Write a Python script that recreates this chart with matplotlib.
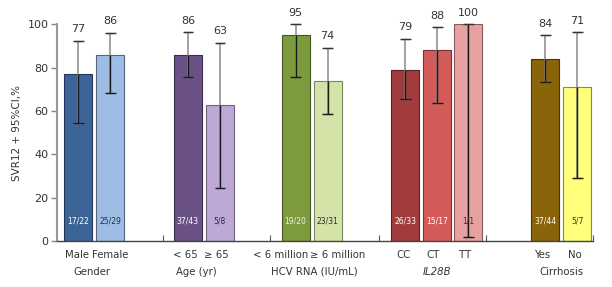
import matplotlib
matplotlib.use("Agg")
import matplotlib.pyplot as plt
import numpy as np

# ---- data ----
categories = ["Male", "Female", "< 65", "\u2265 65", "< 6 million", "\u2265 6 million",
              "CC", "CT", "TT", "Yes", "No"]
groups = ["Gender", "Age (yr)", "HCV RNA (IU/mL)", "IL28B", "Cirrhosis"]
svr = [77, 86, 86, 63, 95, 74, 79, 88, 100, 84, 71]
ci_low = [54.5, 68.3, 75.5, 24.6, 75.5, 58.8, 65.7, 63.5, 2.0, 73.2, 29.2]
ci_high = [92.4, 96.1, 96.3, 91.5, 100, 89.2, 93.4, 98.6, 100, 94.9, 96.3]
counts = ["17/22", "25/29", "37/43", "5/8", "19/20", "23/31", "26/33", "15/17", "1/1", "37/44", "5/7"]
yticks = [0, 20, 40, 60, 80, 100]

# ---- style / layout ----
xpos = np.array([0, 1, 3.42, 4.42, 6.78, 7.78, 10.2, 11.2, 12.18, 14.58, 15.58])
label_x = [-0.06, 0.98, 3.35, 4.32, 6.3, 8.1, 10.15, 11.08, 12.07, 14.52, 15.49]
group_x = [0.43, 3.69, 7.36, 11.19, 15.07]
sep_ticks = [2.65, 5.98, 9.39, 12.73, 16.07]
colors = ["#3C6496", "#9EBDE4", "#6A5287", "#BEA9D6", "#7B9B3D", "#D4E4A8",
          "#A23C3C", "#D35C5A", "#E8A1A1", "#8A6409", "#FFFF7C"]
edges = ["#22385a", "#55657a", "#3a2c4a", "#6e6280", "#44561f", "#7c8660",
         "#5a1f1f", "#7a3030", "#8a5a5a", "#4a3505", "#8a8a40"]
count_colors = ["white", "#2a2a3a", "white", "#2a2a3a", "#f0f0e0", "#2a2a2a",
                "white", "white", "#3a2a2a", "white", "#3a3a10"]

fig = plt.figure(figsize=(6.12, 2.87), dpi=100)
ax = fig.add_axes([0.0926, 0.160, 0.969 - 0.0926, 0.915 - 0.160])

ax.bar(xpos, svr, width=0.875, color=colors, edgecolor=edges, linewidth=0.8, zorder=2)

err = np.array([np.array(svr) - np.array(ci_low), np.array(ci_high) - np.array(svr)])
ax.errorbar(xpos, svr, yerr=err, fmt="none", ecolor="#8a8a8a", elinewidth=1.1,
            capsize=3, capthick=1.0, zorder=3, clip_on=False)
inner_top = np.minimum(np.array(svr), np.array(ci_high))
ax.vlines(xpos, ci_low, inner_top, colors="#1a1a1a", linewidth=1.0, zorder=4)
ax.hlines(ci_low, xpos - 0.17, xpos + 0.17, colors="#1a1a1a", linewidth=1.0, zorder=4)
ax.hlines(ci_high, xpos - 0.17, xpos + 0.17, colors="#333333", linewidth=1.0, zorder=4, clip_on=False)

for x, hi, v in zip(xpos, ci_high, svr):
    ax.text(x, hi + 3, f"{v}", ha="center", va="bottom", fontsize=8, color="#333333", clip_on=False)
for x, c, cc in zip(xpos, counts, count_colors):
    ax.text(x, 9.2, c, ha="center", va="center", fontsize=5.5, color=cc, zorder=5)

ax.set_xlim(-0.68, 16.07)
ax.set_ylim(0, 100)
ax.set_yticks(yticks)
ax.set_yticklabels([str(t) for t in yticks], fontsize=8, color="#333333")
ax.set_xticks(sep_ticks)
ax.set_xticklabels([])
ax.tick_params(axis="x", direction="in", length=4, color="#555555", width=0.8)
ax.tick_params(axis="y", direction="out", length=4, color="#888888", width=1.0, pad=2)

for s in ["top", "right"]:
    ax.spines[s].set_visible(False)
ax.spines["left"].set_color("#999999")
ax.spines["left"].set_linewidth(1.5)
ax.spines["bottom"].set_color("#444444")
ax.spines["bottom"].set_linewidth(1.0)

ax.set_ylabel("SVR12 + 95%CI,%", fontsize=7.5, color="#333333", labelpad=4)

trans = ax.get_xaxis_transform()
for x, lab in zip(label_x, categories):
    ax.text(x, -0.0785, lab, transform=trans, ha="center", va="baseline", fontsize=7.3,
            color="#333333")
for x, g in zip(group_x, groups):
    ax.text(x, -0.155, g, transform=trans, ha="center", va="baseline", fontsize=7.3,
            color="#333333", style="italic" if g == "IL28B" else "normal")

fig.savefig("out.png", dpi=100)
